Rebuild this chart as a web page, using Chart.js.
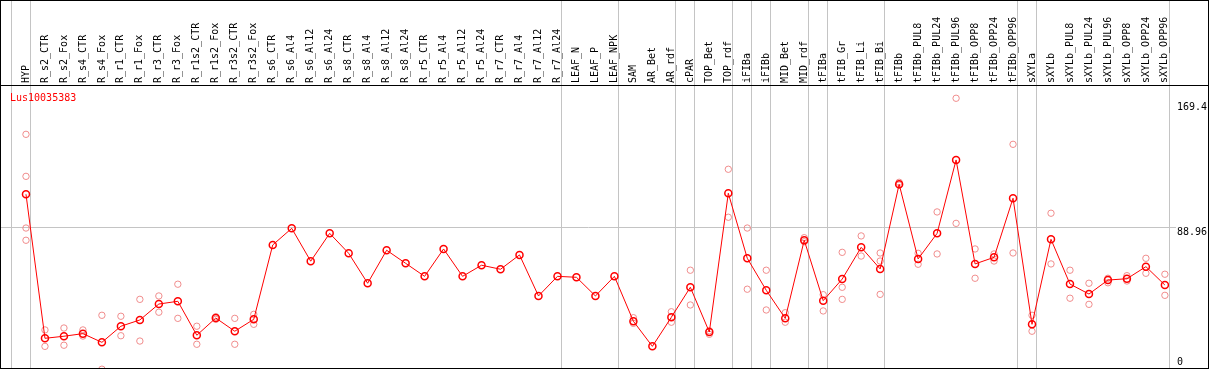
<!DOCTYPE html>
<html>
<head>
<meta charset="utf-8">
<script src="https://cdn.jsdelivr.net/npm/chart.js@4.4.1/dist/chart.umd.min.js"></script>
<style>
  html, body { margin: 0; padding: 0; background: #fff; }
  /* outer frame + the black rule under the label band */
  #frame {
    width: 1207px; height: 367px; border: 1px solid #000;
    background: linear-gradient(#000, #000) 0 84px / 100% 1px no-repeat;
  }
  canvas { display: block; }
</style>
</head>
<body>
<div id="frame"><canvas id="chart" width="1207" height="367"></canvas></div>
<script>
var geneId = 'Lus10035383';

var categories = ['HYP', 'R_s2_CTR', 'R_s2_Fox', 'R_s4_CTR', 'R_s4_Fox', 'R_r1_CTR', 'R_r1_Fox',
    'R_r3_CTR', 'R_r3_Fox', 'R_r1s2_CTR', 'R_r1s2_Fox', 'R_r3s2_CTR', 'R_r3s2_Fox',
    'R_s6_CTR', 'R_s6_Al4', 'R_s6_Al12', 'R_s6_Al24', 'R_s8_CTR', 'R_s8_Al4', 'R_s8_Al12', 'R_s8_Al24',
    'R_r5_CTR', 'R_r5_Al4', 'R_r5_Al12', 'R_r5_Al24', 'R_r7_CTR', 'R_r7_Al4', 'R_r7_Al12', 'R_r7_Al24',
    'LEAF_N', 'LEAF_P', 'LEAF_NPK', 'SAM', 'AR_Bet', 'AR_rdf', 'cPAR', 'TOP_Bet', 'TOP_rdf',
    'iFIBa', 'iFIBb', 'MID_Bet', 'MID_rdf', 'tFIBa', 'tFIB_Gr', 'tFIB_Li', 'tFIB_Bi',
    'tFIBb', 'tFIBb_PUL8', 'tFIBb_PUL24', 'tFIBb_PUL96', 'tFIBb_OPP8', 'tFIBb_OPP24', 'tFIBb_OPP96',
    'sXYLa', 'sXYLb', 'sXYLb_PUL8', 'sXYLb_PUL24', 'sXYLb_PUL96', 'sXYLb_OPP8', 'sXYLb_OPP24', 'sXYLb_OPP96'];

// last index of each sample group (separator drawn just after it)
var groupEnds = [-1, 0, 28, 31, 34, 35, 37, 38, 39, 41, 42, 45, 52, 53, 60];

var meanValues = [109.8, 20.3, 21.6, 23.2, 17.8, 27.8, 31.7, 41.6, 43.3, 22.2, 32.9, 24.7, 32.1,
    78.3, 88.6, 68.2, 85.5, 73.1, 54.5, 75.0, 66.9, 58.8, 75.8, 58.8, 65.7, 63.2, 72.1, 46.6, 58.8,
    58.2, 46.6, 58.8, 30.9, 15.3, 33.4, 52.0, 24.2, 110.4, 70.0, 50.1, 32.7, 81.2, 43.7,
    57.1, 76.8, 63.4, 116.0, 69.6, 85.5, 131.1, 66.5, 70.6, 107.3,
    29.0, 81.8, 54.0, 47.8, 56.5, 57.3, 64.8, 53.4];

var rep1 = [147.0, 25.5, 26.7, 25.5, 34.6, 34.0, 44.5, 46.6, 53.9, 27.8, 33.7, 32.7, 35.2,
    null, null, null, null, null, null, null, null, null, null, null, null, null, null, null, null,
    null, null, null, 33.1, null, 36.8, 62.6, 25.0, 125.3, 88.8, 62.6, 36.2, 82.8, 47.4,
    73.7, 83.9, 73.3, 117.2, 73.1, 98.8, 169.4, 75.8, 72.7, 140.8,
    34.6, 98.0, 62.6, 54.5, 57.6, 59.2, 70.0, 60.1];

var rep2 = [120.9, 15.3, 16.0, 21.7, 1.1, 21.9, 18.6, 36.5, 32.7, 16.6, 32.1, 16.6, 29.0,
    null, null, null, null, null, null, null, null, null, null, null, null, null, null, null, null,
    null, null, null, 29.6, null, 30.3, 41.0, 22.8, 95.5, 50.8, 37.9, 30.3, 80.3, 37.3,
    52.0, 71.4, 68.3, 115.5, 66.3, 72.7, 91.7, 57.6, 68.3, 73.3,
    24.7, 66.5, 45.2, 41.4, 54.8, 55.9, 60.7, 47.0];

var rep3 = [88.8, null, null, null, null, null, null, null, null, null, null, null, null,
    null, null, null, null, null, null, null, null, null, null, null, null, null, null, null, null,
    null, null, null, null, null, null, null, null, null, null, null, null, null, null,
    44.5, null, 47.6, null, null, null, null, null, null, null,
    null, null, null, null, null, null, null, null];

var rep4 = [81.2];

var yTickValues = [0, 88.96, 169.4];

function toPoints(values) {
    var pts = [];
    for (let i = 0; i < values.length; i++) {
        if (values[i] !== null && values[i] !== undefined) {
            pts.push({ x: i, y: values[i] });
        }
    }
    return pts;
}

var replicatePoints = [].concat(toPoints(rep1), toPoints(rep2), toPoints(rep3), toPoints(rep4));

// axis ranges chosen so the plot sits where the original frame puts it
var xMin = -1.316, xMax = 60.58;
var yMin = 1.86, yMax = 177.64;
var pxPerUnit = 1.61;
var labelShiftPx = [9, -5, -9];   // keep the value labels inside the frame
var bandHeight = 84;              // label band above the plot

var gray = '#c4c4c4';
var monoFont = { family: 'DejaVu Sans Mono', size: 10 };

// vertical axes: no extra room for half label heights
function noVerticalPadding(scale) {
    scale.paddingTop = 0;
    scale.paddingBottom = 0;
}

const titlePlugin = {
    id: 'geneTitle',
    afterDraw(chart) {
        const ctx = chart.ctx;
        const area = chart.chartArea;
        ctx.save();
        ctx.font = '10px "DejaVu Sans Mono"';
        ctx.fillStyle = '#ff0000';
        ctx.textBaseline = 'alphabetic';
        ctx.fillText(geneId, area.left + 9, area.top + 16);
        ctx.restore();
    }
};

new Chart(document.getElementById('chart'), {
    type: 'line',
    data: {
        datasets: [{
            label: geneId,
            data: toPoints(meanValues),
            borderColor: '#ff0000',
            borderWidth: 1,
            tension: 0,
            pointRadius: 3.5,
            pointBorderWidth: 1.5,
            pointBorderColor: '#ff0000',
            pointBackgroundColor: 'rgba(0,0,0,0)'
        }, {
            label: 'replicates',
            data: replicatePoints,
            showLine: false,
            pointRadius: 3.2,
            pointBorderWidth: 1,
            pointBorderColor: 'rgb(240,140,140)',
            pointBackgroundColor: 'rgba(0,0,0,0)'
        }]
    },
    options: {
        responsive: false,
        animation: false,
        devicePixelRatio: 1,
        layout: { padding: 0, autoPadding: false },
        plugins: {
            legend: { display: false },
            tooltip: { enabled: false }
        },
        scales: {
            // sample names, fill the band above the plot
            x: {
                type: 'linear', position: 'top', weight: 1,
                min: xMin, max: xMax,
                afterBuildTicks: function (scale) {
                    scale.ticks = categories.map(function (c, i) { return { value: i }; });
                },
                afterFit: function (scale) {
                    scale.height = bandHeight;
                    scale.paddingLeft = 0;
                    scale.paddingRight = 0;
                },
                grid: { display: false, drawTicks: false },
                border: { display: false },
                ticks: {
                    autoSkip: false, minRotation: 90, maxRotation: 90, padding: 2,
                    labelOffset: 12,
                    color: '#000', font: monoFont,
                    callback: function (value) { return categories[value]; }
                }
            },
            // group separators, tick marks run up through the label band
            xg: {
                type: 'linear', position: 'top', weight: 0,
                min: xMin, max: xMax,
                afterBuildTicks: function (scale) {
                    scale.ticks = groupEnds.map(function (g) { return { value: g + 0.23 }; });
                },
                afterFit: function (scale) { scale.height = 0; },
                grid: { color: gray, tickLength: bandHeight, drawTicks: true },
                border: { display: true, color: '#000' },
                ticks: { display: false }
            },
            y: {
                type: 'linear', position: 'right',
                min: yMin, max: yMax,
                afterBuildTicks: function (scale) {
                    scale.ticks = [{ value: yTickValues[1] }];
                },
                afterFit: noVerticalPadding,
                grid: { color: gray, drawTicks: false },
                border: { display: false },
                ticks: { display: false }
            },
            yl: {
                type: 'linear', position: 'right',
                min: yMin, max: yMax,
                afterBuildTicks: function (scale) {
                    scale.ticks = yTickValues.map(function (v, i) {
                        return { value: v + labelShiftPx[i] / pxPerUnit };
                    });
                },
                afterFit: noVerticalPadding,
                grid: { display: false, drawTicks: false },
                border: { display: false },
                ticks: {
                    padding: 1, color: '#000', font: monoFont,
                    callback: function (value, index) { return String(yTickValues[index]); }
                }
            }
        }
    },
    plugins: [titlePlugin]
});
</script>
</body>
</html>
